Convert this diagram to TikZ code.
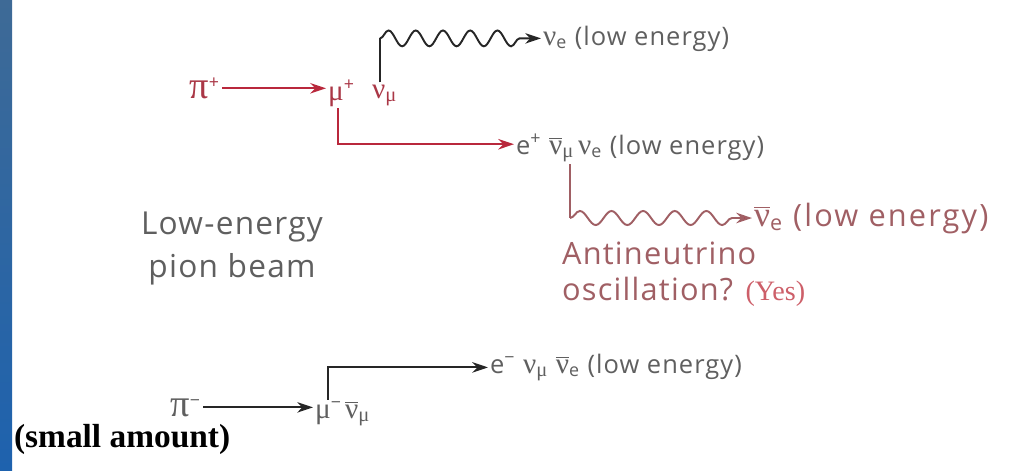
\documentclass[tikz,border=0pt]{standalone}
\usepackage{fontspec}
\setmainfont{Open Sans}[LetterSpace=4]
\newfontfamily\grk{Liberation Serif}[Scale=1.15]
\newfontfamily\slab{Liberation Serif}
\usetikzlibrary{arrows.meta,decorations.pathmorphing}

\definecolor{inkgray}{RGB}{95,95,95}
\definecolor{hotred}{RGB}{170,55,70}
\definecolor{linered}{RGB}{185,40,60}
\definecolor{oscred}{RGB}{160,95,100}
\definecolor{yesred}{RGB}{205,95,105}
\definecolor{stripa}{RGB}{62,106,150}
\definecolor{stripb}{RGB}{30,98,174}

\newcommand{\lo}[1]{\textsubscript{#1}}
\newcommand{\gk}[1]{{\grk #1}}
\newcommand{\nubar}{\ensuremath{\overline{\mbox{\grk ν}}}}

\begin{document}
\begin{tikzpicture}[x=0.02cm, y=-0.02cm,
  >={Stealth[length=9pt,width=6pt]},
  every node/.style={inner sep=1pt, text=inkgray},
  font=\fontsize{14.5}{17}\selectfont,
  big/.style={font=\fontsize{18}{24}\selectfont},
  hot/.style={text=hotred},
  osc/.style={text=oscred},
  redline/.style={draw=linered, line width=1.1pt},
  darkline/.style={draw=black!85, line width=1.1pt},
  wavetop/.style={decorate, decoration={snake, amplitude=4.5pt, segment length=15.5pt, post length=8pt}},
  wavelow/.style={decorate, decoration={snake, amplitude=4pt, segment length=18pt, post length=8pt}}]

\useasboundingbox (0,0) rectangle (1021,470);
\shade[top color=stripa, bottom color=stripb] (0,0) rectangle (12,470);

% pi+ decay chain
\node[hot, anchor=base east] (piplus) at (222,98) {{\grk\fontsize{19}{20}\selectfont π}\textsuperscript{+}};
\node[hot, anchor=base west] (muplus) at (326,100) {\gk{μ}\textsuperscript{+}};
\node[hot, anchor=base west] (numuplus) at (370,98) {\gk{ν}\lo{\gk{μ}}};
\draw[redline, ->] (piplus.east) -- (piplus.east -| muplus.west);

% nu_e from the top
\node[anchor=base west] (nuetop) at (541,45) {\gk{ν}\lo{e} (low energy)};
\coordinate (kinkA) at (380,30);
\draw[darkline] (numuplus.north -| kinkA) -- (kinkA |- nuetop.west);
\draw[darkline, wavetop, ->] (kinkA |- nuetop.west) -- (nuetop.west);

% mu+ decay
\node[anchor=base west] (epos) at (514,154) {e\textsuperscript{+}};
\node[anchor=base west] (anumu) at (547,154) {\nubar\lo{\gk{μ}}};
\node[anchor=base west] (rest) at (576,154) {\gk{ν}\lo{e} (low energy)};
\coordinate (kinkB) at (338,145);
\draw[redline, ->] (muplus.south -| kinkB) |- (epos.west);

% oscillation
\node[osc, anchor=base west, font=\fontsize{17.5}{20}\selectfont\addfontfeatures{LetterSpace=7}] (nuebar) at (752,226) {\nubar\lo{e} (low energy)};
\coordinate (kinkC) at (570,212);
\draw[draw=oscred, line width=1.1pt] (anumu.south -| kinkC) -- (kinkC |- nuebar.west);
\draw[draw=oscred, line width=1.1pt, wavelow, -{Stealth[length=9pt,width=6pt,fill=linered]}] (kinkC |- nuebar.west) -- (nuebar.west);

% labels
\node[big, align=center, anchor=base] (beam) at (232,277) {Low-energy\\pion beam};
\node[osc, font=\fontsize{17.5}{20}\selectfont, align=left, anchor=base west] (oscq) at (560,300) {Antineutrino\\oscillation? {\slab\color{yesred}\fontsize{16}{20}\selectfont(Yes)}};

% pi- decay chain
\node[anchor=base east] (piminus) at (203,416) {{\grk\fontsize{19}{20}\selectfont π}\textsuperscript{−}};
\node[anchor=base west] (muminus) at (313,418) {\gk{μ}\textsuperscript{−}};
\node[anchor=base west] (anumuminus) at (343,418) {\nubar\lo{\gk{μ}}};
\draw[darkline, ->] (piminus.east) -- (piminus.east -| muminus.west);

\node[anchor=base west] (elow) at (488,373) {e\textsuperscript{−} \gk{ν}\lo{\gk{μ}} \nubar\lo{e} (low energy)};
\coordinate (kinkD) at (328,362);
\draw[darkline, ->] (muminus.north -| kinkD) |- (elow.west);

\node[text=black, anchor=base west, font=\slab\bfseries\fontsize{19}{22}\selectfont] (small) at (12,447) {(small amount)};

\end{tikzpicture}
\end{document}
